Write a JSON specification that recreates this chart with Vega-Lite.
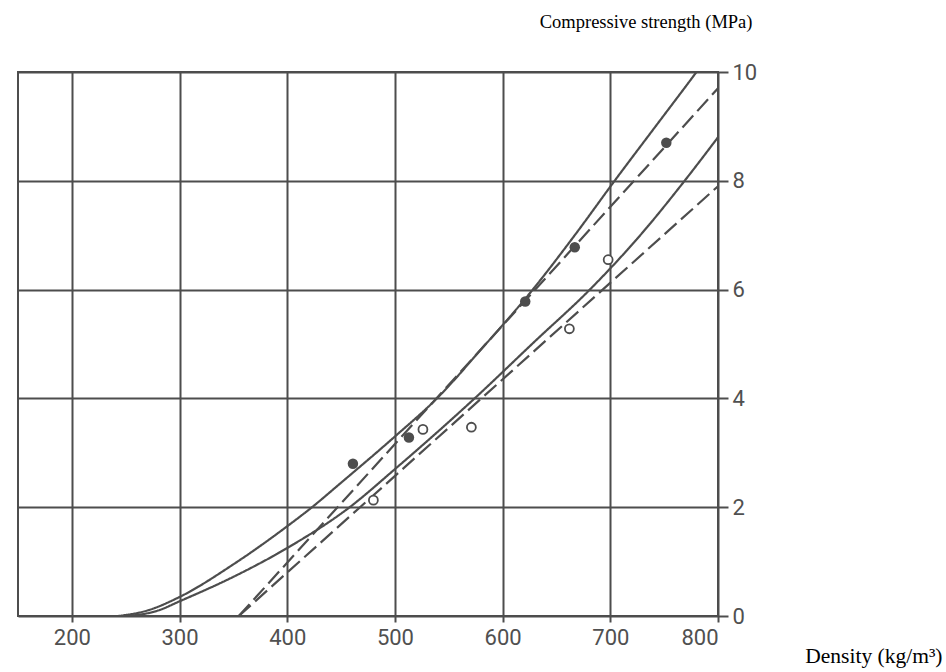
{
  "$schema": "https://vega.github.io/schema/vega-lite/v6.json",
  "width": 700,
  "height": 544,
  "autosize": {"type": "none"},
  "padding": {"left": 18, "top": 72, "right": 228, "bottom": 56},
  "background": "white",
  "config": {
    "view": {"stroke": "#4d4d4d", "strokeWidth": 2},
    "axis": {
      "labelFont": "Roboto",
      "labelFontSize": 22,
      "labelColor": "#505050",
      "tickColor": "#4d4d4d",
      "tickWidth": 2,
      "gridColor": "#4d4d4d",
      "gridWidth": 2,
      "gridOpacity": 1,
      "domain": false,
      "titleFont": "Liberation Serif",
      "titleFontWeight": "normal",
      "titleColor": "#000000"
    }
  },
  "datasets": {
    "curves": [
      {"series": "A", "style": "solid", "density": 243, "strength": 0},
      {"series": "A", "style": "solid", "density": 270, "strength": 0.1},
      {"series": "A", "style": "solid", "density": 300, "strength": 0.35},
      {"series": "A", "style": "solid", "density": 350, "strength": 0.95},
      {"series": "A", "style": "solid", "density": 400, "strength": 1.65},
      {"series": "A", "style": "solid", "density": 423, "strength": 2},
      {"series": "A", "style": "solid", "density": 450, "strength": 2.45},
      {"series": "A", "style": "solid", "density": 500, "strength": 3.3},
      {"series": "A", "style": "solid", "density": 539, "strength": 4},
      {"series": "A", "style": "solid", "density": 580, "strength": 4.9},
      {"series": "A", "style": "solid", "density": 628, "strength": 6},
      {"series": "A", "style": "solid", "density": 667, "strength": 7},
      {"series": "A", "style": "solid", "density": 704, "strength": 8},
      {"series": "A", "style": "solid", "density": 742, "strength": 9},
      {"series": "A", "style": "solid", "density": 780, "strength": 10},
      {"series": "A", "style": "solid", "density": 790, "strength": 10.27},
      {"series": "B", "style": "solid", "density": 250, "strength": 0},
      {"series": "B", "style": "solid", "density": 280, "strength": 0.1},
      {"series": "B", "style": "solid", "density": 300, "strength": 0.27},
      {"series": "B", "style": "solid", "density": 350, "strength": 0.72},
      {"series": "B", "style": "solid", "density": 400, "strength": 1.25},
      {"series": "B", "style": "solid", "density": 458, "strength": 2},
      {"series": "B", "style": "solid", "density": 500, "strength": 2.7},
      {"series": "B", "style": "solid", "density": 574, "strength": 4},
      {"series": "B", "style": "solid", "density": 630, "strength": 5.05},
      {"series": "B", "style": "solid", "density": 681, "strength": 6},
      {"series": "B", "style": "solid", "density": 730, "strength": 7.05},
      {"series": "B", "style": "solid", "density": 769, "strength": 8},
      {"series": "B", "style": "solid", "density": 800, "strength": 8.8},
      {"series": "C", "style": "dashed", "density": 355, "strength": 0},
      {"series": "C", "style": "dashed", "density": 800, "strength": 9.7},
      {"series": "D", "style": "dashed", "density": 355, "strength": 0},
      {"series": "D", "style": "dashed", "density": 800, "strength": 7.9}
    ],
    "points": [
      {"kind": "filled", "density": 461, "strength": 2.8},
      {"kind": "filled", "density": 513, "strength": 3.28},
      {"kind": "filled", "density": 621, "strength": 5.78},
      {"kind": "filled", "density": 667, "strength": 6.78},
      {"kind": "filled", "density": 752, "strength": 8.7},
      {"kind": "open", "density": 480, "strength": 2.13},
      {"kind": "open", "density": 526, "strength": 3.43},
      {"kind": "open", "density": 571, "strength": 3.47},
      {"kind": "open", "density": 662, "strength": 5.28},
      {"kind": "open", "density": 698, "strength": 6.55}
    ]
  },
  "encoding": {
    "x": {
      "field": "density",
      "type": "quantitative",
      "scale": {"domain": [150, 800], "nice": false, "zero": false},
      "axis": {
        "values": [200, 300, 400, 500, 600, 700, 800],
        "grid": true,
        "tickSize": 6,
        "labelPadding": 5,
        "title": "Density (kg/m³)",
        "titleFontSize": 21.5,
        "titleX": 924,
        "titleY": 46,
        "titleAlign": "right",
        "titleBaseline": "alphabetic",
        "titleAnchor": null
      }
    },
    "y": {
      "field": "strength",
      "type": "quantitative",
      "scale": {"domain": [0, 10], "nice": false},
      "axis": {
        "orient": "right",
        "values": [0, 2, 4, 6, 8, 10],
        "grid": true,
        "tickSize": 10,
        "labelPadding": 4,
        "title": "Compressive strength (MPa)",
        "titleFontSize": 18.5,
        "titleAngle": 0,
        "titleX": 34,
        "titleY": -45,
        "titleAlign": "right",
        "titleBaseline": "alphabetic",
        "titleAnchor": null
      }
    }
  },
  "layer": [
    {
      "data": {"name": "curves"},
      "mark": {"type": "line", "interpolate": "monotone", "clip": true, "color": "#4d4d4d", "strokeWidth": 2.2},
      "encoding": {
        "detail": {"field": "series", "type": "nominal"},
        "strokeDash": {
          "field": "style",
          "type": "nominal",
          "scale": {"domain": ["solid", "dashed"], "range": [[1, 0], [16, 6]]},
          "legend": null
        }
      }
    },
    {
      "data": {"name": "points"},
      "transform": [{"filter": "datum.kind == 'filled'"}],
      "mark": {"type": "circle", "size": 110, "color": "#4d4d4d", "opacity": 1}
    },
    {
      "data": {"name": "points"},
      "transform": [{"filter": "datum.kind == 'open'"}],
      "mark": {"type": "point", "shape": "circle", "size": 80, "stroke": "#4d4d4d", "strokeWidth": 1.8, "fill": "white", "filled": false, "opacity": 1}
    }
  ]
}
